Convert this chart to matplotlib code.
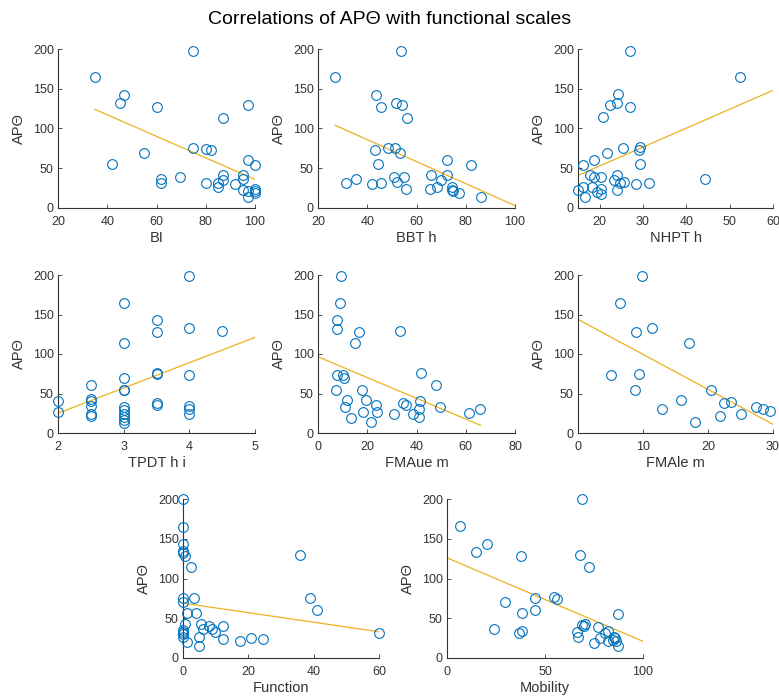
import matplotlib
matplotlib.use("Agg")
import matplotlib.pyplot as plt
import numpy as np

plt.rcParams['font.family'] = ['Liberation Sans', 'DejaVu Sans']

# ---- data ----
bi_x = [35, 75, 45, 47, 60, 97, 87, 55, 42, 75, 80, 82, 97, 100, 62, 62, 69.5, 80, 85, 85,
        87, 87, 92, 95, 95, 95, 97, 97, 100, 100, 100]
bi_y = [165, 198, 132, 142, 127, 129, 113, 69, 55, 76, 74, 73, 60, 54, 36, 32, 39, 31, 32, 26,
        42, 35, 30, 42, 37, 23, 21, 14, 24, 19, 22]

bbt_x = [27.1, 53.9, 43.7, 51.6, 54.3, 45.4, 56.3, 48.3, 51.3, 43.3, 53.4, 72.3, 82.2, 44.3,
         72.5, 65.8, 50.8, 55, 69.9, 35.3, 31.3, 41.8, 45.4, 52.1, 55.7, 65.3, 68.5, 74.5,
         74.6, 75, 77.4, 86.3]
bbt_y = [165, 198, 142, 132, 129, 127, 113, 76, 75, 73, 69, 60, 54, 55, 42, 42, 39, 39, 35,
         36, 32, 30, 31, 33, 24, 24, 26, 27, 23, 21, 19, 14]

nhpt_x = [26.9, 52.4, 24.3, 23.9, 22.3, 26.9, 20.8, 25.4, 21.8, 29, 29.4, 29.4, 18.6, 16.1,
          17.7, 18.6, 20.2, 24, 23.4, 25.5, 24.8, 28.3, 31.4, 44.3, 15, 16.1, 18.2, 16.5,
          19.4, 20.4, 20.4, 23.9]
nhpt_y = [198, 165, 143, 132, 129, 127, 114, 75, 69, 73, 77, 55, 60, 54, 42, 39, 39, 42, 35,
          33, 31, 30, 32, 36, 23, 27, 26, 14, 20, 24, 18, 23]

tpdt_x = [2, 2, 2.5, 2.5, 2.5, 2.5, 2.5, 2.5, 3, 3, 3, 3, 3, 3, 3, 3, 3, 3, 3,
          3.5, 3.5, 3.5, 3.5, 3.5, 3.5, 4, 4, 4, 4, 4, 4, 4.5]
tpdt_y = [41, 26, 61, 43, 40, 34, 24.5, 21, 165, 114, 70, 55, 54, 33, 29, 24.5, 20, 17, 13,
          143, 128, 76.5, 75, 38.5, 36, 199, 133, 73.5, 34, 30, 24.5, 129]

fmaue_x = [9.2, 8.8, 7.9, 7.9, 16.7, 33.4, 15.2, 41.8, 7.9, 10.2, 10.6, 47.9, 7.3, 17.9,
           11.8, 19.3, 10.8, 23.7, 34.4, 35.7, 41.4, 41.1, 49.5, 65.9, 61.3, 24.1, 18.3,
           30.9, 38.4, 40.9, 13.3, 21.4]
fmaue_y = [199, 165, 143, 132, 128, 129, 114, 76, 73.5, 74, 69, 61, 55, 54.5, 42, 42, 33,
           35.5, 38.5, 36, 40, 30, 32.5, 31, 25, 26.6, 26.6, 24, 24, 20, 18.6, 13.5]

fmale_x = [9.9, 6.4, 8.9, 11.4, 17, 5, 9.4, 8.8, 20.5, 15.9, 22.4, 23.5, 12.9, 27.4, 28.5,
           29.5, 25, 21.9, 18]
fmale_y = [199, 165, 128, 133, 114, 73.5, 75, 55, 54.5, 42, 38.5, 39, 31, 33, 30.4, 27.5,
           23.7, 21, 13.5]

func_x = [0, 0, 0, 0, 0, 0.5, 2.3, 35.9, 39, 41, 0, 0, 3.5, 1.3, 3.9, 0.5, 0, 0, 0, 0, 5.6,
          6.1, 7.9, 9, 9.9, 12.3, 12.3, 4.8, 1.3, 4.8, 17.3, 20.9, 24.4, 60.1]
func_y = [200, 165, 143, 134, 132, 128, 114, 130, 76, 61, 75, 70, 76, 56, 56, 43, 35, 33, 30,
          27, 43, 37, 40, 36, 33, 40, 24, 27, 20, 15, 21, 25, 24, 31]

mob_x = [68.9, 6.8, 14.6, 20.6, 37.8, 67.9, 72.4, 29.6, 44.7, 54.6, 56.1, 38.1, 44.7, 87.4,
         24, 36.6, 38.3, 68.7, 70.6, 69.9, 66.3, 66.8, 76.9, 82, 80.4, 77.9, 75.2, 82, 85,
         85.5, 86.4, 84.7, 87.4]
mob_y = [200, 166, 133, 143, 128, 130, 114, 70, 75, 77, 74, 56, 61, 55, 37, 31, 34, 41.5, 43,
         40, 33, 27, 39, 34, 31, 25, 19, 21, 27, 25, 22, 23, 15]

# fitted lines (x range and y at ends)
fit_bi = ([35, 100], [124, 36])
fit_bbt = ([27, 100], [104, 3])
fit_nhpt = ([15, 60], [41, 148])
fit_tpdt = ([2, 5], [25, 121])
fit_fmaue = ([0, 66], [96.5, 9.7])
fit_fmale = ([0, 30], [143.8, 11])
fit_func = ([0, 60], [69, 33])
fit_mob = ([0, 100], [126, 21])

x_labels = ['BI', 'BBT h', 'NHPT h', 'TPDT h i', 'FMAue m', 'FMAle m', 'Function', 'Mobility']
x_limits = [(20, 100), (20, 100), (15, 60), (2, 5), (0, 80), (0, 30), (0, 60), (0, 100)]
x_ticks = [[20, 40, 60, 80, 100], [20, 40, 60, 80, 100], [20, 30, 40, 50, 60],
           [2, 3, 4, 5], [0, 20, 40, 60, 80], [0, 10, 20, 30], [0, 20, 40, 60], [0, 50, 100]]
y_ticks = [0, 50, 100, 150, 200]

panels = [(bi_x, bi_y, fit_bi), (bbt_x, bbt_y, fit_bbt), (nhpt_x, nhpt_y, fit_nhpt),
          (tpdt_x, tpdt_y, fit_tpdt), (fmaue_x, fmaue_y, fit_fmaue),
          (fmale_x, fmale_y, fit_fmale), (func_x, func_y, fit_func), (mob_x, mob_y, fit_mob)]

W, H = 779, 699
fig = plt.figure(figsize=(W / 100, H / 100), dpi=100)

# axes boxes in pixels: left, top, right, bottom
boxes = [(58, 49, 255, 208), (318, 49, 515, 208), (578, 49, 773, 208),
         (58, 275, 255, 433), (318, 275, 515, 433), (578, 275, 773, 433),
         (183, 499, 379, 658), (447, 499, 643, 658)]

blue = (0, 0.447, 0.741)
yellow = (0.929, 0.694, 0.125)
axcol = '#333333'

for i, ((px, py, fit), (l, t, r, b)) in enumerate(zip(panels, boxes)):
    ax = fig.add_axes([l / W, 1 - b / H, (r - l) / W, (b - t) / H])
    ax.plot(px, py, 'o', mfc='none', mec=blue, ms=7, mew=0.8, linestyle='none',
            clip_on=False, zorder=3)
    ax.plot(fit[0], fit[1], '-', color=yellow, lw=0.9, zorder=2)
    ax.set_xlim(*x_limits[i])
    ax.set_ylim(0, 200)
    ax.set_xticks(x_ticks[i])
    ax.set_yticks(y_ticks)
    for s in ['top', 'right']:
        ax.spines[s].set_visible(False)
    for s in ['left', 'bottom']:
        ax.spines[s].set_color(axcol)
        ax.spines[s].set_linewidth(0.8)
    ax.tick_params(direction='in', length=3, width=0.6, colors=axcol, labelsize=9)
    ax.tick_params(axis='x', pad=6)
    ax.tick_params(axis='y', pad=3)
    ax.set_xlabel(x_labels[i], fontsize=10.5, color=axcol, labelpad=2)
    ax.set_ylabel('APΘ', fontsize=10.5, color=axcol, labelpad=5)

fig.text(0.5, 1 - 20 / H, 'Correlations of APΘ with functional scales', ha='center',
         va='center', fontsize=14, color='black')

fig.savefig('out.png', dpi=100, facecolor='white')
